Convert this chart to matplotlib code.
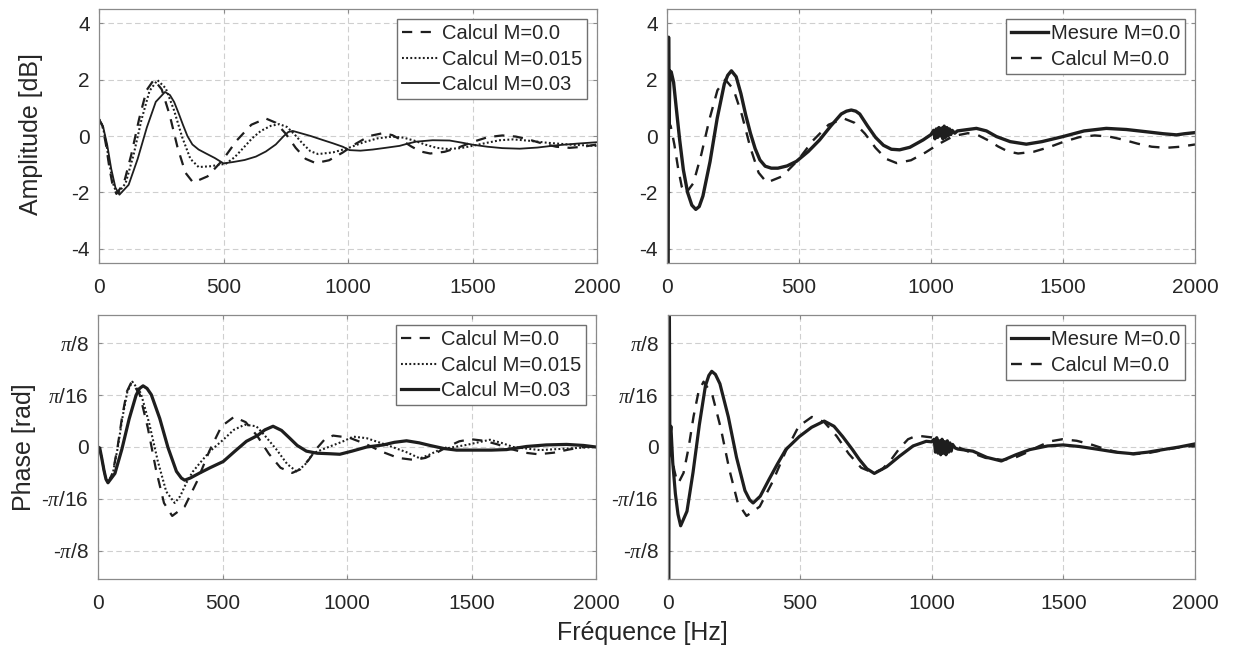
import numpy as np
import matplotlib
matplotlib.use('Agg')
import matplotlib.pyplot as plt

plt.rcParams['font.family'] = ['Liberation Sans', 'DejaVu Sans']
plt.rcParams['mathtext.fontset'] = 'custom'
plt.rcParams['mathtext.rm'] = 'Liberation Sans'
plt.rcParams['mathtext.it'] = 'Liberation Serif:italic'
plt.rcParams['axes.unicode_minus'] = False

# ---------------- data: amplitude [dB] ----------------
amp_m0_f = [0, 14, 28, 42, 56, 70, 100, 130, 161, 191, 221, 252, 284, 315, 347, 378, 436, 495, 553, 612,
            670, 710, 750, 790, 830, 870, 924, 978, 1032, 1086, 1140, 1178, 1216, 1254, 1292, 1330, 1388,
            1446, 1504, 1562, 1620, 1674, 1728, 1782, 1836, 1890, 1945, 2000]
amp_m0_db = [0.6, 0.35, -0.31, -1.14, -1.80, -2.05, -1.67, -0.65, 0.60, 1.62, 2.0, 1.65, 0.74, -0.39, -1.30,
             -1.65, -1.43, -0.87, -0.16, 0.40, 0.62, 0.47, 0.08, -0.42, -0.81, -0.96, -0.86, -0.59, -0.27,
             0.0, 0.1, 0.03, -0.15, -0.37, -0.55, -0.62, -0.56, -0.40, -0.20, -0.04, 0.02, -0.02, -0.13,
             -0.27, -0.38, -0.42, -0.38, -0.3]

amp_m015_f = [0, 15, 30, 45, 60, 75, 107, 139, 171, 203, 235, 268, 301, 334, 367, 400, 450, 510, 545, 580,
              615, 650, 690, 724, 755, 786, 818, 849, 880, 940, 1000, 1060, 1120, 1180, 1224, 1268, 1312,
              1356, 1400, 1453, 1505, 1558, 1610, 1663, 1730, 1800, 1900, 2000]
amp_m015_db = [0.6, 0.35, -0.31, -1.14, -1.80, -2.05, -1.67, -0.66, 0.59, 1.60, 1.98, 1.69, 0.92, -0.04,
               -0.81, -1.1, -1.07, -0.98, -0.75, -0.42, -0.08, 0.18, 0.36, 0.42, 0.32, 0.05, -0.27, -0.54,
               -0.64, -0.58, -0.43, -0.23, -0.08, -0.02, -0.06, -0.17, -0.31, -0.42, -0.46, -0.43, -0.34,
               -0.24, -0.15, -0.12, -0.17, -0.24, -0.31, -0.35]

amp_m03_f = [0, 16, 33, 49, 66, 82, 119, 155, 192, 228, 265, 285, 302, 320, 337, 355, 375, 400, 430, 465,
             500, 540, 585, 630, 670, 710, 740, 760, 778, 810, 850, 898, 940, 979, 1006, 1050, 1099, 1150,
             1207, 1240, 1274, 1340, 1408, 1460, 1502, 1560, 1620, 1690, 1760, 1838, 1920, 2000]
amp_m03_db = [0.6, 0.35, -0.32, -1.16, -1.83, -2.08, -1.73, -0.82, 0.30, 1.21, 1.56, 1.45, 1.2, 0.8, 0.4,
              0.0, -0.3, -0.48, -0.62, -0.78, -0.97, -0.92, -0.85, -0.73, -0.55, -0.3, -0.02, 0.14, 0.18,
              0.1, 0.0, -0.14, -0.26, -0.38, -0.5, -0.52, -0.48, -0.42, -0.35, -0.27, -0.2, -0.15, -0.16,
              -0.24, -0.31, -0.38, -0.43, -0.45, -0.41, -0.33, -0.27, -0.22]

amp_mes_f = [4, 6, 8, 11, 16, 25, 35, 48, 62, 78, 94, 109, 122, 136, 163, 190, 217, 230, 244, 262, 280, 298,
             316, 334, 352, 372, 395, 420, 455, 490, 535, 578, 620, 660, 680, 698, 715, 730, 760, 790, 820,
             850, 881, 920, 970, 1000, 1010, 1015, 1020, 1025, 1030, 1035, 1040, 1045, 1050, 1055, 1060,
             1065, 1070, 1075, 1080, 1090, 1100, 1172, 1210, 1248, 1300, 1361, 1420, 1500, 1580, 1664,
             1740, 1816, 1880, 1930, 1960, 2000]
amp_mes_db = [-6, 3.5, 0.4, 2.3, 2.27, 1.9, 1.0, -0.14, -1.2, -2.0, -2.45, -2.6, -2.5, -2.13, -0.91, 0.62,
              1.84, 2.15, 2.31, 2.1, 1.5, 0.75, 0.1, -0.45, -0.85, -1.07, -1.14, -1.14, -1.06, -0.9, -0.55,
              -0.14, 0.35, 0.78, 0.88, 0.92, 0.88, 0.78, 0.35, -0.05, -0.33, -0.47, -0.49, -0.4, -0.14, 0.05,
              0.2, -0.1, 0.25, -0.05, 0.3, 0.0, 0.28, -0.1, 0.35, -0.05, 0.3, 0.0, 0.25, 0.05, 0.2, 0.1, 0.18,
              0.27, 0.18, -0.02, -0.2, -0.29, -0.2, -0.02, 0.18, 0.27, 0.23, 0.15, 0.08, 0.04, 0.08, 0.12]

# ---------------- data: phase, in units of pi/16 rad ----------------
ph_m0_f = [0, 8, 16, 24, 32, 40, 59, 78, 97, 116, 135, 168, 200, 233, 265, 298, 348, 397, 447, 496, 546,
           593, 640, 686, 733, 780, 813, 846, 878, 911, 944, 1009, 1074, 1140, 1205, 1270, 1315, 1360, 1406,
           1451, 1497, 1551, 1605, 1659, 1714, 1768, 1830, 1890, 1950, 2000]
ph_m0_v = [0, -0.07, -0.24, -0.45, -0.62, -0.69, -0.50, -0.02, 0.59, 1.07, 1.26, 1.01, 0.37, -0.44, -1.08,
           -1.33, -1.15, -0.67, -0.08, 0.40, 0.58, 0.48, 0.21, -0.13, -0.40, -0.5, -0.43, -0.25, -0.03, 0.15,
           0.22, 0.18, 0.06, -0.09, -0.21, -0.25, -0.21, -0.11, 0.01, 0.11, 0.15, 0.12, 0.05, -0.04, -0.11,
           -0.14, -0.11, -0.05, 0.0, 0.02]

ph_m015_f = [0, 8, 16, 24, 32, 40, 60, 79, 99, 118, 138, 172, 206, 240, 274, 308, 330, 355, 380, 409, 450,
             503, 545, 589, 636, 670, 717, 760, 797, 830, 864, 931, 980, 1025, 1079, 1159, 1239, 1293, 1330,
             1373, 1430, 1480, 1574, 1620, 1668, 1775, 1882, 2000]
ph_m015_v = [0, -0.07, -0.24, -0.45, -0.62, -0.69, -0.50, -0.02, 0.59, 1.07, 1.26, 1.04, 0.45, -0.27, -0.86,
             -1.08, -0.95, -0.69, -0.48, -0.31, -0.08, 0.14, 0.33, 0.43, 0.4, 0.22, -0.05, -0.33, -0.47,
             -0.35, -0.12, 0.01, 0.1, 0.2, 0.17, 0.04, -0.1, -0.22, -0.15, -0.05, 0.0, 0.04, 0.14, 0.08, 0.0,
             -0.06, -0.03, 0.0]

ph_m03_f = [0, 7, 16, 24, 32, 40, 68, 96, 125, 153, 167, 181, 197, 214, 248, 281, 315, 335, 348, 370, 409,
            450, 503, 550, 596, 640, 670, 703, 737, 770, 800, 837, 880, 931, 971, 1020, 1079, 1146, 1190,
            1239, 1290, 1333, 1390, 1440, 1507, 1580, 1641, 1721, 1800, 1882, 1950, 2000]
ph_m03_v = [0, -0.02, -0.24, -0.45, -0.62, -0.69, -0.51, -0.04, 0.54, 1.0, 1.13, 1.18, 1.13, 1.01, 0.55,
            -0.01, -0.47, -0.6, -0.64, -0.6, -0.5, -0.4, -0.28, -0.08, 0.11, 0.22, 0.33, 0.4, 0.32, 0.17,
            0.03, -0.08, -0.12, -0.13, -0.14, -0.08, 0.0, 0.04, 0.09, 0.12, 0.08, 0.03, -0.03, -0.06, -0.06,
            -0.06, -0.05, 0.01, 0.04, 0.05, 0.03, 0.0]

ph_mes_f = [3, 5, 7, 11, 18, 28, 38, 48, 72, 95, 119, 142, 155, 166, 180, 197, 229, 260, 292, 310, 323, 350,
            384, 415, 447, 498, 545, 593, 630, 663, 700, 726, 755, 783, 830, 878, 930, 980, 1000, 1010, 1015,
            1020, 1025, 1030, 1035, 1040, 1045, 1050, 1055, 1060, 1065, 1070, 1075, 1080, 1090, 1100, 1157,
            1210, 1265, 1320, 1373, 1440, 1499, 1560, 1626, 1700, 1765, 1820, 1879, 1940, 2000]
ph_mes_v = [-3, 3, 0.2, 0.4, -0.3, -0.9, -1.3, -1.52, -1.24, -0.49, 0.43, 1.18, 1.38, 1.46, 1.4, 1.22, 0.58,
            -0.20, -0.84, -1.02, -1.08, -0.95, -0.62, -0.33, -0.05, 0.2, 0.38, 0.5, 0.4, 0.2, -0.05, -0.24,
            -0.42, -0.51, -0.38, -0.18, 0.02, 0.11, 0.1, 0.15, -0.1, 0.18, -0.12, 0.12, -0.15, 0.15, -0.12,
            0.1, -0.15, 0.12, -0.1, 0.08, -0.08, 0.05, -0.02, -0.04, -0.08, -0.2, -0.27, -0.15, -0.05, 0.02,
            0.04, 0.01, -0.04, -0.1, -0.13, -0.1, -0.05, 0.0, 0.06]

x_ticks = [0, 500, 1000, 1500, 2000]
amp_ticks = [-4, -2, 0, 2, 4]
amp_ticklabels = ['-4', '-2', '0', '2', '4']
ph_ticks_units = [-2, -1, 0, 1, 2]
ph_ticklabels = [r'-$\pi$/8', r'-$\pi$/16', '0', r'$\pi$/16', r'$\pi$/8']

labels_calc = ['Calcul M=0.0', 'Calcul M=0.015', 'Calcul M=0.03']
labels_cmp = ['Mesure M=0.0', 'Calcul M=0.0']

# ---------------- styling ----------------
W, H = 1233, 650
fig = plt.figure(figsize=(W / 100, H / 100), dpi=100)
fig.patch.set_facecolor('white')

def pos(l, t, r, b):
    return [l / W, 1 - b / H, (r - l) / W, (b - t) / H]

ax_tl = fig.add_axes(pos(99, 9, 597, 263))
ax_tr = fig.add_axes(pos(667, 9, 1195, 263))
ax_bl = fig.add_axes(pos(98, 315, 596, 579))
ax_br = fig.add_axes(pos(668, 315, 1195, 579))

SPINE = '#8a8a8a'
TXT = '#262626'
LINE = '#1e1e1e'
DASH = (4.6, 3.8)
DOT = (0.9, 1.1)

def style(ax, yt, ytl, ylim):
    ax.set_xlim(0, 2000)
    ax.set_xticks(x_ticks)
    ax.set_xticklabels([str(v) for v in x_ticks])
    ax.set_ylim(*ylim)
    ax.set_yticks(yt)
    ax.set_yticklabels(ytl)
    ax.grid(True, color='#cfcfcf', linestyle=(0, (5, 3)), linewidth=0.8)
    ax.set_axisbelow(True)
    for s in ax.spines.values():
        s.set_color(SPINE)
        s.set_linewidth(0.9)
    ax.tick_params(direction='in', length=3, width=0.8, color=SPINE, top=True, right=True,
                   labelsize=15, labelcolor=TXT)
    ax.tick_params(axis='x', pad=10.5)
    ax.tick_params(axis='y', pad=6.5)

def legend(ax):
    leg = ax.legend(loc='upper right', fontsize=14.5, frameon=True, fancybox=False,
                    framealpha=1, edgecolor='#707070', borderpad=0.25, labelspacing=0.33,
                    handlelength=1.8, handletextpad=0.15, borderaxespad=0.5)
    leg.get_frame().set_linewidth(1.0)
    for t in leg.get_texts():
        t.set_color(TXT)

# top-left amplitude
ax = ax_tl
ax.plot(amp_m0_f, amp_m0_db, color=LINE, lw=1.6, linestyle='--', dashes=DASH, label=labels_calc[0])
ax.plot(amp_m015_f, amp_m015_db, color=LINE, lw=1.5, linestyle=':', dashes=DOT, label=labels_calc[1])
ax.plot(amp_m03_f, amp_m03_db, color=LINE, lw=1.3, linestyle='-', label=labels_calc[2])
style(ax, amp_ticks, amp_ticklabels, (-4.5, 4.5))
legend(ax)

# top-right amplitude
ax = ax_tr
ax.plot(amp_mes_f, amp_mes_db, color=LINE, lw=2.4, linestyle='-', label=labels_cmp[0])
ax.plot(amp_m0_f, amp_m0_db, color=LINE, lw=1.7, linestyle='--', dashes=DASH, label=labels_cmp[1])
style(ax, amp_ticks, amp_ticklabels, (-4.5, 4.5))
legend(ax)

ph_scale = np.pi / 16
ph_ticks = [v * ph_scale for v in ph_ticks_units]

# bottom-left phase
ax = ax_bl
ax.plot(ph_m0_f, np.array(ph_m0_v) * ph_scale, color=LINE, lw=1.6, linestyle='--', dashes=DASH, label=labels_calc[0])
ax.plot(ph_m015_f, np.array(ph_m015_v) * ph_scale, color=LINE, lw=1.5, linestyle=':', dashes=DOT, label=labels_calc[1])
ax.plot(ph_m03_f, np.array(ph_m03_v) * ph_scale, color=LINE, lw=2.3, linestyle='-', label=labels_calc[2])
style(ax, ph_ticks, ph_ticklabels, (-0.5, 0.5))
legend(ax)

# bottom-right phase
ax = ax_br
ax.plot(ph_mes_f, np.array(ph_mes_v) * ph_scale, color=LINE, lw=2.3, linestyle='-', label=labels_cmp[0])
ax.plot(ph_m0_f, np.array(ph_m0_v) * ph_scale, color=LINE, lw=1.7, linestyle='--', dashes=DASH, label=labels_cmp[1])
style(ax, ph_ticks, ph_ticklabels, (-0.5, 0.5))
legend(ax)

fig.text(31 / W, 1 - 134 / H, 'Amplitude [dB]', rotation=90, ha='center', va='center', fontsize=18, color=TXT)
fig.text(24 / W, 1 - 447 / H, 'Phase [rad]', rotation=90, ha='center', va='center', fontsize=18, color=TXT)
fig.text(642 / W, 1 - 633 / H, 'Fréquence [Hz]', ha='center', va='center', fontsize=18, color=TXT)

fig.savefig('out.png', dpi=100, facecolor='white')
